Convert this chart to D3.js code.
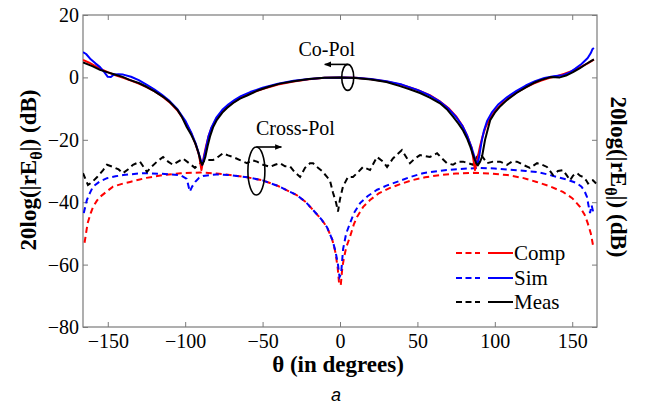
<!DOCTYPE html>
<html><head><meta charset="utf-8">
<script src="https://cdn.jsdelivr.net/npm/d3@7"></script>
<style>body{margin:0;background:#fff}svg{display:block}svg text{font-family:'Liberation Serif','Times New Roman',Times,Tinos,'Nimbus Roman','DejaVu Serif',serif}</style>
</head><body><svg id="c" width="646" height="405"></svg>
<script>
// ---------- data ----------
const xTicks = [-150,-100,-50,0,50,100,150];
const yTicks = [-80,-60,-40,-20,0,20];
const xDomain = [-166,166];
const yDomain = [-80,20];
const seriesNames = ["Comp","Sim","Meas"];
const seriesColors = ["#ff0000","#0000ff","#000000"];

// Co-pol (solid)
const compCo = [[-166,5.6],[-162,4.7],[-158,3.6],[-154,2.6],[-150,1.7],[-145,0.7],[-140,-0.1],[-135,-1.0],[-130,-2.0],[-125,-3.1],[-120,-4.4],[-115,-6],[-110,-8],[-105,-10.6],[-100,-14.2],[-96,-18],[-93,-21.8],[-91,-25],[-89.5,-29.7],[-88,-25.5],[-86.5,-22],[-85,-19],[-83,-16.2],[-80,-13.4],[-76,-10.9],[-72,-9.1],[-68,-7.7],[-64,-6.5],[-58,-5.1],[-50,-3.7],[-40,-2.3],[-30,-1.3],[-20,-0.6],[-10,-0.15],[0,0],[10,-0.15],[20,-0.6],[30,-1.3],[40,-2.4],[50,-4],[58,-5.7],[64,-7.5],[70,-9.8],[75,-12.5],[79,-15.4],[82,-18.5],[85,-22.5],[87.2,-29.7],[89,-25.5],[90.5,-22],[92,-19],[94,-16],[97,-13],[100,-10.8],[105,-8.2],[110,-6.2],[115,-4.6],[120,-3.2],[125,-2],[130,-1],[135,-0.2],[140,0.4],[145,1.2],[150,2.1],[155,3.2],[160,4.5],[164,5.7]];
const simCo = [[-166,8.1],[-164,7.5],[-161,5.8],[-158,4.5],[-155,3.3],[-152,1.5],[-150,0.2],[-148,0.1],[-146,0.9],[-143,1.0],[-140,0.9],[-135,0.2],[-130,-0.9],[-125,-2.3],[-120,-3.8],[-115,-5.6],[-110,-7.6],[-105,-10.2],[-100,-13.8],[-96,-17.8],[-93,-21.5],[-90.5,-25.5],[-89,-28],[-88,-26],[-86.5,-22.5],[-85,-19],[-83,-16],[-80,-13],[-76,-10.4],[-72,-8.6],[-68,-7.2],[-64,-6],[-58,-4.7],[-50,-3.3],[-40,-2.0],[-30,-1.1],[-20,-0.5],[-10,-0.1],[0,0],[10,-0.1],[20,-0.5],[30,-1.2],[40,-2.3],[50,-4],[58,-5.8],[64,-7.6],[70,-10],[75,-12.7],[79,-15.5],[82,-18.5],[85,-22.5],[87.5,-26.5],[88.8,-28],[90,-25],[91.5,-20.5],[93,-17],[95,-14],[98,-11.3],[102,-8.8],[108,-6.3],[114,-4.3],[120,-2.6],[126,-1.2],[132,-0.2],[138,0.4],[144,0.7],[148,1.5],[152,2.8],[156,4.3],[160,6.2],[162,7.8],[163,9],[164,9.4]];
const measCo = [[-166,4.8],[-160,3.6],[-155,2.4],[-150,1.6],[-146,1.0],[-140,0.1],[-136,-0.8],[-130,-1.8],[-125,-3],[-120,-4.4],[-114,-6.3],[-110,-7.9],[-105,-10.4],[-102,-12.8],[-99,-15.9],[-96,-18.5],[-93.6,-21],[-91.5,-24],[-90,-27],[-89,-28],[-88,-27],[-87,-25.5],[-85.5,-22],[-84,-19],[-82,-16],[-79.5,-13.6],[-76,-11.3],[-73,-9.8],[-69,-8.2],[-64.6,-6.8],[-60,-5.8],[-53.6,-4.3],[-46,-3.0],[-38.8,-2.0],[-30,-1.2],[-20,-0.5],[-10,-0.1],[0,0],[10,-0.2],[20,-0.7],[30,-1.5],[38.8,-2.8],[45,-3.8],[51.7,-5],[58,-6.5],[64.6,-8.3],[69,-10.2],[73,-12.6],[76.5,-14.8],[79.5,-17],[82,-19.5],[84,-22],[86,-25],[87.9,-27.5],[89,-28.2],[90.5,-27],[91.7,-25.5],[93.7,-20],[95,-17.5],[97,-13.7],[100,-11.3],[103,-9.5],[108,-7.2],[114,-5],[120,-3.2],[125,-1.8],[130,-0.8],[136,0.1],[142,0],[146,0.6],[150.5,1.7],[155,3.0],[159,4.3],[162.6,5.4],[164,5.8]];

// Cross-pol (dashed)
const compCross = [[-165,-53],[-163,-46.7],[-161,-43.5],[-159.5,-41.5],[-157,-39.5],[-155,-38.3],[-150,-36.3],[-146.6,-35],[-140,-34],[-135.6,-33.5],[-130,-32.8],[-125,-32.2],[-114,-31.3],[-103,-30.7],[-90,-30.5],[-80,-30.8],[-71,-31.3],[-60,-32],[-50,-33],[-40,-34.8],[-28,-37.7],[-22,-40],[-17.4,-42.5],[-12,-45.5],[-8.4,-48],[-5,-52],[-3,-56],[-1.5,-61],[-0.5,-66.5],[0.5,-66.5],[1.5,-61],[2.5,-58],[4,-54.5],[6.5,-51],[9,-47],[11,-44.7],[15,-41.5],[19.4,-39.3],[25,-37.2],[32,-35.5],[40,-34],[47,-32.9],[55,-32],[64.6,-31.3],[75,-30.8],[86,-30.6],[97,-30.8],[108,-31.3],[118,-32.2],[127,-33.5],[135,-34.8],[144,-36.7],[150,-38.7],[155,-41.5],[158,-44],[160,-46.7],[162,-50],[163.5,-54]];
const simCross = [[-165.5,-43.5],[-163.5,-39.3],[-161.5,-37],[-159.5,-35],[-155,-33.3],[-150.5,-32.3],[-145,-31.7],[-140,-31.3],[-130,-30.8],[-125,-30.7],[-115,-30.9],[-103,-31.3],[-99,-32.5],[-97,-36.6],[-95.5,-35],[-93.5,-33.5],[-91,-32.2],[-88.5,-31.6],[-80,-31.1],[-71,-31.3],[-60,-32],[-50,-33],[-40,-34.8],[-28,-37.7],[-22,-40],[-17.4,-42.5],[-12,-45.5],[-8.4,-48],[-5,-52],[-3,-55.5],[-1.3,-60],[-0.3,-64],[0.7,-63],[2,-55],[4,-50],[6.5,-46.7],[9,-43.5],[13,-40.3],[18,-38],[24,-36],[30,-34.7],[36.8,-33.5],[45,-32],[53.6,-30.7],[65,-29.9],[75.6,-29.4],[90.4,-29],[100,-29.2],[112,-29.7],[120,-30],[127,-30.3],[135,-31.2],[140,-31.9],[147,-32.8],[153,-33.9],[156,-35],[158,-36.5],[159.5,-38.3],[160.5,-41],[161.5,-43.5],[162.5,-41],[163.5,-43],[164,-44]];
const measCross = [[-166,-30.7],[-162.8,-34.5],[-160,-33.5],[-157,-32],[-153,-29.7],[-150.5,-28],[-146.6,-28.7],[-143,-29.5],[-140.2,-30.7],[-137,-29.5],[-133.7,-28],[-129.2,-27],[-124.7,-30.3],[-121.5,-28.5],[-118.2,-27],[-114.3,-25.5],[-111,-27],[-107.9,-28],[-104.6,-27],[-101.4,-26],[-97.5,-27.5],[-93.7,-29],[-90.4,-27.5],[-86.6,-26.5],[-82,-26.5],[-78.8,-25.5],[-75.6,-24.3],[-72.3,-25],[-69.1,-25.5],[-64.6,-26.5],[-60.1,-27.5],[-56.8,-26.5],[-53.6,-27],[-49.7,-28],[-45.2,-28.7],[-42,-28],[-38.8,-27.5],[-35.5,-28.5],[-32.3,-28.5],[-29,-30.5],[-25.8,-31.9],[-22.6,-29],[-19.4,-27.5],[-17.4,-27.5],[-14.9,-28.7],[-11.6,-30],[-8.4,-31.9],[-6.5,-33],[-4.5,-37],[-2.6,-40],[-1.3,-43],[0,-39],[1.9,-35],[5.2,-31.9],[8.4,-31.9],[11,-30.7],[14.9,-28.7],[19.4,-29.7],[23.9,-25.5],[27.8,-27],[30.4,-28.7],[34.2,-26],[40,-23.3],[45.2,-27.5],[48.4,-26],[51.7,-24.9],[58.1,-25.5],[62.7,-24.3],[65.9,-26],[69.1,-27.5],[73,-28],[76.2,-27],[79.5,-27],[82.7,-27.5],[85.9,-28],[88.4,-25.5],[90.4,-24.3],[95,-27.5],[98.8,-27],[103.4,-27],[107.9,-28],[111,-27],[114.3,-27],[118.2,-28],[122.7,-29],[127.3,-27.5],[130.5,-28],[133.7,-28.7],[137.6,-31.3],[140.8,-30],[144,-29.7],[146.6,-31.5],[148.6,-33],[150.5,-31.5],[153.1,-30.7],[155,-31.5],[157,-31.9],[159,-33],[160.2,-34],[162.2,-33],[163.4,-33],[165.4,-34]];

// annotations (data space)
const coPolMark = {theta:5, val:0, label:"Co-Pol"};
const crossPolMark = {theta:-54, val:-30, label:"Cross-Pol"};

// ---------- chart ----------
const SERIF = "'Liberation Serif','Times New Roman',Times,Tinos,'Nimbus Roman','DejaVu Serif',serif";
const svg = d3.select("#c");
const L=83, R=597, T=15, B=327;
const x = d3.scaleLinear().domain(xDomain).range([L,R]);
const y = d3.scaleLinear().domain(yDomain).range([B,T]);
const axisColor = "#7a7a7a";

function styleAxis(g){
  g.attr("font-family",null).attr("font-size",null);
  g.select(".domain").remove();
  g.selectAll(".tick line").attr("stroke",axisColor).attr("stroke-width",1);
  g.selectAll(".tick text").attr("fill","#000").attr("font-family",SERIF).style("font-family",SERIF).style("font-size","20px");
}
svg.append("g").attr("transform",`translate(0,${B})`)
  .call(d3.axisBottom(x).tickValues(xTicks).tickSize(-5).tickPadding(7).tickFormat(d3.format("d"))).call(styleAxis);
svg.append("g").attr("transform",`translate(0,${T})`)
  .call(d3.axisTop(x).tickValues(xTicks).tickSize(-5).tickFormat("")).call(styleAxis);
svg.append("g").attr("transform",`translate(${L},0)`)
  .call(d3.axisLeft(y).tickValues(yTicks).tickSize(-5).tickPadding(4).tickFormat(d3.format("d"))).call(styleAxis);
svg.append("g").attr("transform",`translate(${R},0)`)
  .call(d3.axisRight(y).tickValues(yTicks).tickSize(-5).tickFormat("")).call(styleAxis);
svg.append("rect").attr("x",L).attr("y",T).attr("width",R-L).attr("height",B-T)
  .attr("fill","none").attr("stroke",axisColor).attr("stroke-width",1.2);

const line = d3.line().x(d=>x(d[0])).y(d=>y(d[1])).curve(d3.curveLinear);
svg.append("clipPath").attr("id","pc").append("rect").attr("x",L).attr("y",T).attr("width",R-L).attr("height",B-T);
const plot = svg.append("g").attr("clip-path","url(#pc)");

const crossSets = [compCross, simCross, measCross];
const coSets = [compCo, simCo, measCo];
crossSets.forEach((s,i)=>{
  plot.append("path").datum(s).attr("d",line).attr("fill","none")
    .attr("stroke",seriesColors[i]).attr("stroke-width",2).attr("stroke-dasharray","6,4");
});
[0,1,2].forEach(i=>{
  plot.append("path").datum(coSets[i]).attr("d",line).attr("fill","none")
    .attr("stroke",seriesColors[i]).attr("stroke-width",2).attr("stroke-linejoin","round");
});

// annotations
const defs = svg.append("defs");
defs.append("marker").attr("id","ah").attr("viewBox","0 0 10 10").attr("refX",9).attr("refY",5)
  .attr("markerWidth",7).attr("markerHeight",7).attr("markerUnits","userSpaceOnUse").attr("orient","auto")
  .append("path").attr("d","M0,1 L10,5 L0,9 z").attr("fill","#000");

function annot(m, rx, ry, dir, arrowLen, tx, ty){
  const cx = x(m.theta), cy = y(m.val);
  svg.append("ellipse").attr("cx",cx).attr("cy",cy).attr("rx",rx).attr("ry",ry)
    .attr("fill","none").attr("stroke","#000").attr("stroke-width",1.6);
  svg.append("line").attr("x1",cx).attr("y1",cy-ry).attr("x2",cx+dir*arrowLen).attr("y2",cy-ry)
    .attr("stroke","#000").attr("stroke-width",1.6).attr("marker-end","url(#ah)");
  svg.append("text").attr("x",cx+tx).attr("y",cy+ty).attr("text-anchor","middle")
    .style("font-family",SERIF).style("font-size","20px").text(m.label);
}
annot(coPolMark, 6, 13, -1, 23, -21, -21);
annot(crossPolMark, 8.5, 24, 1, 25, 39, -36);

// legend
const legY = [253,278,302];
seriesNames.forEach((n,i)=>{
  const g = svg.append("g");
  g.append("line").attr("x1",456).attr("x2",480).attr("y1",legY[i]).attr("y2",legY[i])
    .attr("stroke",seriesColors[i]).attr("stroke-width",2).attr("stroke-dasharray","6,3.5");
  g.append("line").attr("x1",488).attr("x2",513).attr("y1",legY[i]).attr("y2",legY[i])
    .attr("stroke",seriesColors[i]).attr("stroke-width",2);
  g.append("text").attr("x",514).attr("y",legY[i]+7).style("font-family",SERIF).style("font-size","21px").text(n);
});

// axis titles
svg.append("text").attr("x",338).attr("y",372).attr("text-anchor","middle")
  .style("font-family",SERIF).style("font-size","23px").style("font-weight","bold").text("θ (in degrees)");
function yTitle(tx,ty,rot){
  const t = svg.append("text").attr("transform",`translate(${tx},${ty}) rotate(${rot})`)
    .attr("text-anchor","middle").style("font-family",SERIF).style("font-size","23px").style("font-weight","bold");
  t.append("tspan").text("20log(|rE");
  t.append("tspan").attr("dy",6).style("font-size","16px").text("θ");
  t.append("tspan").attr("dy",-6).text("|) (dB)");
}
yTitle(36,170,-90);
yTitle(611,177,90);

svg.append("text").attr("x",336).attr("y",401).attr("text-anchor","middle")
  .style("font-family","'Liberation Sans',Arial,sans-serif").style("font-style","italic").style("font-size","18px").text("a");
</script></body></html>
